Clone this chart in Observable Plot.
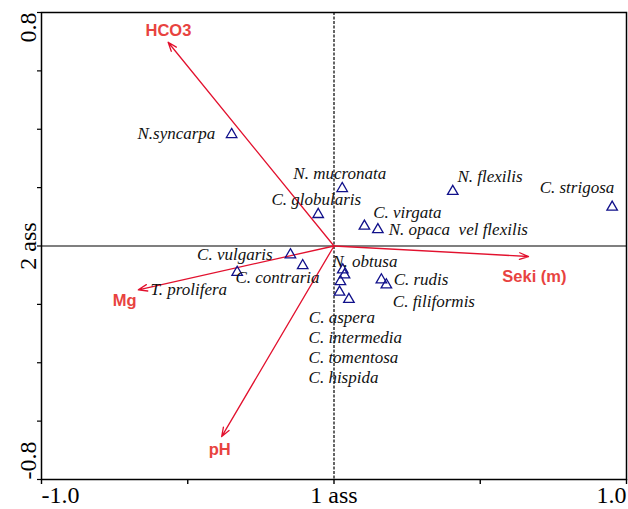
<!DOCTYPE html>
<html>
<head>
<meta charset="utf-8">
<script src="https://cdn.jsdelivr.net/npm/d3@7"></script>
<script src="https://cdn.jsdelivr.net/npm/@observablehq/plot@0.6"></script>
<style>
  html, body { margin: 0; padding: 0; background: #fff; }
  #chart svg { display: block; }
</style>
</head>
<body>
<div id="chart"></div>
<script>
// Species scores on the first two ordination axes
const species = ["N.syncarpa", "N. mucronata", "C. globularis", "N. flexilis", "C. strigosa",
  "C. virgata", "N. opaca  vel flexilis", "C. vulgaris", "C. contraria", "T. prolifera",
  "N. obtusa", "C. aspera", "C. intermedia", "C. tomentosa", "C. hispida", "C. rudis", "C. filiformis"];
const axis1 = [-0.350, 0.028, -0.054, 0.406, 0.951, 0.104, 0.150, -0.149, -0.107, -0.331,
  0.030, 0.036, 0.022, 0.019, 0.051, 0.162, 0.179];
const axis2 = [0.382, 0.197, 0.108, 0.187, 0.133, 0.068, 0.056, -0.030, -0.067, -0.090,
  -0.082, -0.099, -0.122, -0.158, -0.183, -0.116, -0.133];

// Where each species name is written (axis units, left end of the text)
const nameX = [-0.672, -0.139, -0.214, 0.422, 0.703, 0.134, 0.187, -0.468, -0.337, -0.627,
  -0.006, -0.086, -0.087, -0.087, -0.087, 0.204, 0.201];
const nameY = [0.385, 0.248, 0.159, 0.238, 0.200, 0.116, 0.057, -0.030, -0.107, -0.150,
  -0.052, -0.246, -0.312, -0.383, -0.452, -0.116, -0.190];

// Environmental variables (biplot arrows)
const envVars = ["HCO3", "Mg", "pH", "Seki (m)"];
const envX = [-0.567, -0.669, -0.384, 0.665];
const envY = [0.698, -0.150, -0.653, -0.036];
const envLabelX = [-0.566, -0.716, -0.391, 0.685];
const envLabelY = [0.739, -0.188, -0.697, -0.104];

// Axis ticks and tick labels
const xTicks = [-1, -0.5, 0, 0.5, 1];
const yTicks = [-0.8, -0.6, -0.4, -0.2, 0, 0.2, 0.4, 0.6, 0.8];
const xTickLabels = ["-1.0", "1 ass", "1.0"];
const yTickLabels = ["0.8", "2 ass", "-0.8"];

const spp = species.map((name, i) => ({name, x: axis1[i], y: axis2[i], lx: nameX[i], ly: nameY[i]}));
const env = envVars.map((name, i) => ({name, x: envX[i], y: envY[i], lx: envLabelX[i], ly: envLabelY[i]}));

const serif = "'Liberation Serif', 'Times New Roman', serif";
const sans = "'Liberation Sans', Arial, sans-serif";
const arrowRed = "#e2112e";
const labelRed = "#e8433f";

const chart = Plot.plot({
  width: 628,
  height: 509,
  marginLeft: 41,
  marginRight: 2,
  marginTop: 12,
  marginBottom: 30,
  style: {background: "#fff", overflow: "visible"},
  x: {domain: [-1, 1]},
  y: {domain: [-0.8, 0.8]},
  marks: [
    Plot.axisX({ticks: xTicks, tickSize: 5, tickFormat: () => "", label: null, strokeWidth: 1.4}),
    Plot.axisY({ticks: yTicks, tickSize: 4, tickFormat: () => "", label: null, strokeWidth: 1.2}),
    // reference lines through the origin
    Plot.ruleY([0], {stroke: "#000", strokeWidth: 1.1}),
    Plot.ruleX([0], {stroke: "#333", strokeWidth: 1.5, strokeDasharray: "3,1.5"}),
    // environmental arrows
    Plot.arrow(env, {x1: () => 0, y1: () => 0, x2: "x", y2: "y", stroke: arrowRed,
      strokeWidth: 1.3, headLength: 11, headAngle: 40}),
    Plot.text(env, {x: "lx", y: "ly", text: "name", fill: labelRed, fontFamily: sans,
      fontWeight: "bold", fontSize: 16.5}),
    // species
    Plot.dot(spp, {x: "x", y: "y", symbol: "triangle", r: 3.9, stroke: "#10108a",
      strokeWidth: 1.3, fill: "none"}),
    Plot.text(spp, {x: "lx", y: "ly", text: "name", textAnchor: "start", fontFamily: serif,
      fontStyle: "italic", fontSize: 17, fill: "#111"}),
    // tick labels
    Plot.text([xTickLabels[0]], {x: () => -1, y: () => -0.8, text: d => d, textAnchor: "start",
      lineAnchor: "top", dy: 6, fontFamily: serif, fontSize: 24, fill: "#000"}),
    Plot.text([xTickLabels[1]], {x: () => 0, y: () => -0.8, text: d => d, textAnchor: "middle",
      lineAnchor: "top", dy: 6, fontFamily: serif, fontSize: 24, fill: "#000"}),
    Plot.text([xTickLabels[2]], {x: () => 1, y: () => -0.8, text: d => d, textAnchor: "end",
      lineAnchor: "top", dy: 6, fontFamily: serif, fontSize: 24, fill: "#000"}),
    Plot.text([yTickLabels[0]], {x: () => -1, y: () => 0.8, text: d => d, rotate: -90,
      textAnchor: "end", lineAnchor: "bottom", dx: -6, fontFamily: serif, fontSize: 24, fill: "#000"}),
    Plot.text([yTickLabels[1]], {x: () => -1, y: () => 0, text: d => d, rotate: -90,
      textAnchor: "middle", lineAnchor: "bottom", dx: -6, fontFamily: serif, fontSize: 24, fill: "#000"}),
    Plot.text([yTickLabels[2]], {x: () => -1, y: () => -0.8, text: d => d, rotate: -90,
      textAnchor: "start", lineAnchor: "bottom", dx: -6, fontFamily: serif, fontSize: 24, fill: "#000"}),
    Plot.frame({stroke: "#000", strokeWidth: 1.5})
  ]
});

document.getElementById("chart").appendChild(chart);
</script>
</body>
</html>
